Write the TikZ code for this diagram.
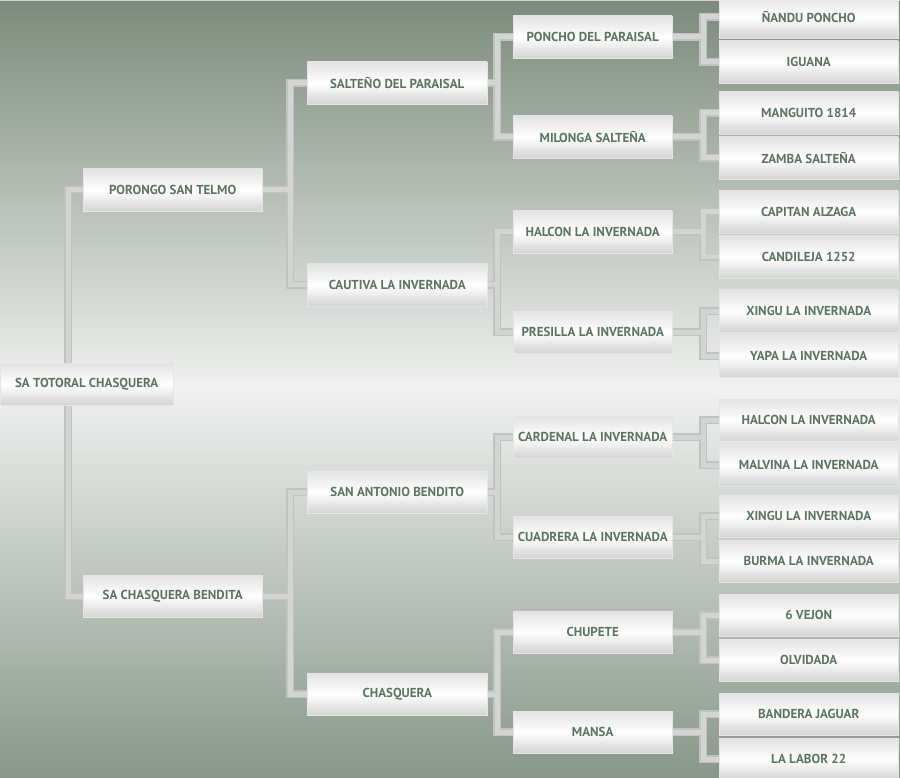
\documentclass[tikz,border=0pt]{standalone}
\usepackage{fontspec}
\setmainfont{PT Sans}
\usetikzlibrary{backgrounds}
\definecolor{txt}{RGB}{90,118,96}
\definecolor{bgtop}{RGB}{123,139,123}
\definecolor{bgmid}{RGB}{240,241,240}
\definecolor{bgbot}{RGB}{135,151,137}
\definecolor{lnout}{RGB}{192,196,192}
\definecolor{lnin}{RGB}{210,213,210}
\definecolor{boxtop}{RGB}{226,226,226}
\definecolor{boxbot}{RGB}{212,212,212}
\tikzset{
  box/.style={rectangle, anchor=west, inner sep=0pt, minimum height=42pt,
    top color=boxtop, bottom color=boxbot, middle color=white,
    draw=black!10, line width=0.4pt,
    text=txt, font=\bfseries\fontsize{13pt}{15pt}\selectfont},
  link/.style={draw=lnout, line width=8pt, line join=miter,
    postaction={draw=lnin, line width=5pt}},
}
\newcommand\bracketlink[4]{\draw[link] (#2.west) -| ([xshift=#4]#1.east) |- (#3.west) ([xshift=#4]#1.east) -- (#1.east);}
\begin{document}
\begin{tikzpicture}[x=1pt,y=-1pt]
\useasboundingbox (0,0) rectangle (900,778);
% root
\node[box, minimum width=173pt] (r) at (0,384) {SA TOTORAL CHASQUERA};
% generation 1
\node[box, minimum width=179pt] (p1) at (83,190) {PORONGO SAN TELMO};
\node[box, minimum width=179pt] (p2) at (83,596) {SA CHASQUERA BENDITA};
% generation 2
\node[box, minimum width=180pt] (a1) at (307,83) {SALTEÑO DEL PARAISAL};
\node[box, minimum width=180pt] (a2) at (307,285) {CAUTIVA LA INVERNADA};
\node[box, minimum width=180pt] (a3) at (307,492) {SAN ANTONIO BENDITO};
\node[box, minimum width=180pt] (a4) at (307,694) {CHASQUERA};
% generation 3
\node[box, minimum width=159pt] (b1) at (513,37) {PONCHO DEL PARAISAL};
\node[box, minimum width=159pt] (b2) at (513,137) {MILONGA SALTEÑA};
\node[box, minimum width=159pt] (b3) at (513,232) {HALCON LA INVERNADA};
\node[box, minimum width=159pt] (b4) at (513,332) {PRESILLA LA INVERNADA};
\node[box, minimum width=159pt] (b5) at (513,437) {CARDENAL LA INVERNADA};
\node[box, minimum width=159pt] (b6) at (513,537) {CUADRERA LA INVERNADA};
\node[box, minimum width=159pt] (b7) at (513,632) {CHUPETE};
\node[box, minimum width=159pt] (b8) at (513,732) {MANSA};
% generation 4
\begin{scope}[every node/.append style={minimum width=179pt, minimum height=43pt}]
\node[box] (c1) at (719,17) {ÑANDU PONCHO};
\node[box] (c2) at (719,62) {IGUANA};
\node[box] (c3) at (719,113) {MANGUITO 1814};
\node[box] (c4) at (719,158) {ZAMBA SALTEÑA};
\node[box] (c5) at (719,212) {CAPITAN ALZAGA};
\node[box] (c6) at (719,257) {CANDILEJA 1252};
\node[box] (c7) at (719,311) {XINGU LA INVERNADA};
\node[box] (c8) at (719,356) {YAPA LA INVERNADA};
\node[box] (c9) at (719,420) {HALCON LA INVERNADA};
\node[box] (c10) at (719,465) {MALVINA LA INVERNADA};
\node[box] (c11) at (719,516) {XINGU LA INVERNADA};
\node[box] (c12) at (719,561) {BURMA LA INVERNADA};
\node[box] (c13) at (719,615) {6 VEJON};
\node[box] (c14) at (719,660) {OLVIDADA};
\node[box] (c15) at (719,714) {BANDERA JAGUAR};
\node[box] (c16) at (719,759) {LA LABOR 22};
\end{scope}
% background and connectors (behind boxes)
\begin{scope}[on background layer]
\fill[top color=bgtop, bottom color=bgbot, middle color=bgmid] (0,0) rectangle (900,778);
\draw[black!18, line width=1.5pt] (0,0.75) -- (900,0.75);
\draw[link] (p1.west) -| ([xshift=68pt]r.north west) (p2.west) -| ([xshift=68pt]r.south west);
\bracketlink{p1}{a1}{a2}{28pt}
\bracketlink{p2}{a3}{a4}{28pt}
\bracketlink{a1}{b1}{b2}{10pt}
\bracketlink{a2}{b3}{b4}{10pt}
\bracketlink{a3}{b5}{b6}{10pt}
\bracketlink{a4}{b7}{b8}{10pt}
\bracketlink{b1}{c1}{c2}{31pt}
\bracketlink{b2}{c3}{c4}{31pt}
\bracketlink{b3}{c5}{c6}{31pt}
\bracketlink{b4}{c7}{c8}{31pt}
\bracketlink{b5}{c9}{c10}{31pt}
\bracketlink{b6}{c11}{c12}{31pt}
\bracketlink{b7}{c13}{c14}{31pt}
\bracketlink{b8}{c15}{c16}{31pt}
\end{scope}
\end{tikzpicture}
\end{document}
